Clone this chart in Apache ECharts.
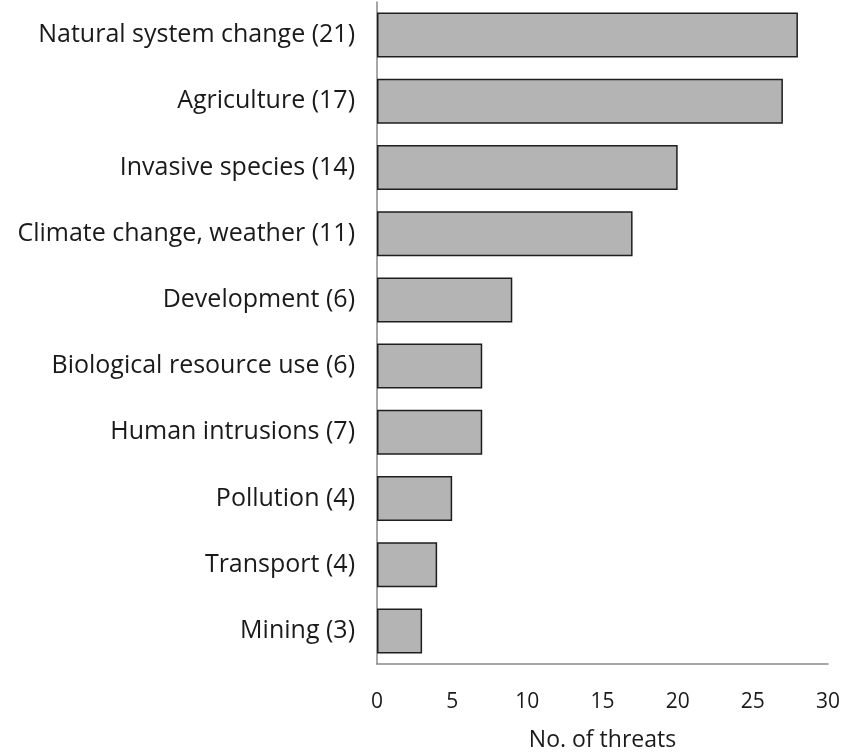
<!DOCTYPE html>
<html>
<head>
<meta charset="utf-8">
<script src="https://cdn.jsdelivr.net/npm/echarts@6/dist/echarts.min.js"></script>
<style>
  html, body { margin: 0; padding: 0; background: #fff; }
  #chart { width: 847px; height: 752px; }
</style>
</head>
<body>
<div id="chart"></div>
<script>
// threat categories, top to bottom
var categories = [
  'Natural system change (21)',
  'Agriculture (17)',
  'Invasive species (14)',
  'Climate change, weather (11)',
  'Development (6)',
  'Biological resource use (6)',
  'Human intrusions (7)',
  'Pollution (4)',
  'Transport (4)',
  'Mining (3)'
];
var threatCounts = [28, 27, 20, 17, 9, 7, 7, 5, 4, 3];
var xTicks = [0, 30, 5]; // min, max, interval

var myChart = echarts.init(document.getElementById('chart'));
var font = '"Open Sans", Lato, sans-serif';

var option = {
  backgroundColor: '#fff',
  animation: false,
  grid: {
    left: 377,
    right: 19,
    top: 2,
    bottom: 88,
    containLabel: false,
    outerBoundsMode: 'none'
  },
  xAxis: {
    type: 'value',
    min: xTicks[0],
    max: xTicks[1],
    interval: xTicks[2],
    name: 'No. of threats',
    nameLocation: 'middle',
    nameGap: 65,
    nameTextStyle: { fontFamily: font, fontSize: 23, color: '#1a1a1a' },
    axisLine: { show: true, lineStyle: { color: '#8a8a8a', width: 1.5 } },
    axisTick: { show: false },
    splitLine: { show: false },
    axisLabel: { fontFamily: font, fontSize: 21, color: '#1a1a1a', margin: 28 }
  },
  yAxis: {
    type: 'category',
    data: categories,
    inverse: true,
    axisLine: { show: true, lineStyle: { color: '#8a8a8a', width: 1.5 } },
    axisTick: { show: false },
    axisLabel: { fontFamily: font, fontSize: 25, color: '#1a1a1a', margin: 22 }
  },
  series: [
    {
      type: 'bar',
      data: threatCounts,
      barWidth: 45, // 柱宽
      itemStyle: {
        color: '#b4b4b4',
        borderColor: '#1e1e1e',
        borderWidth: 1.5
      }
    }
  ]
};
myChart.setOption(option);
</script>
</body>
</html>
